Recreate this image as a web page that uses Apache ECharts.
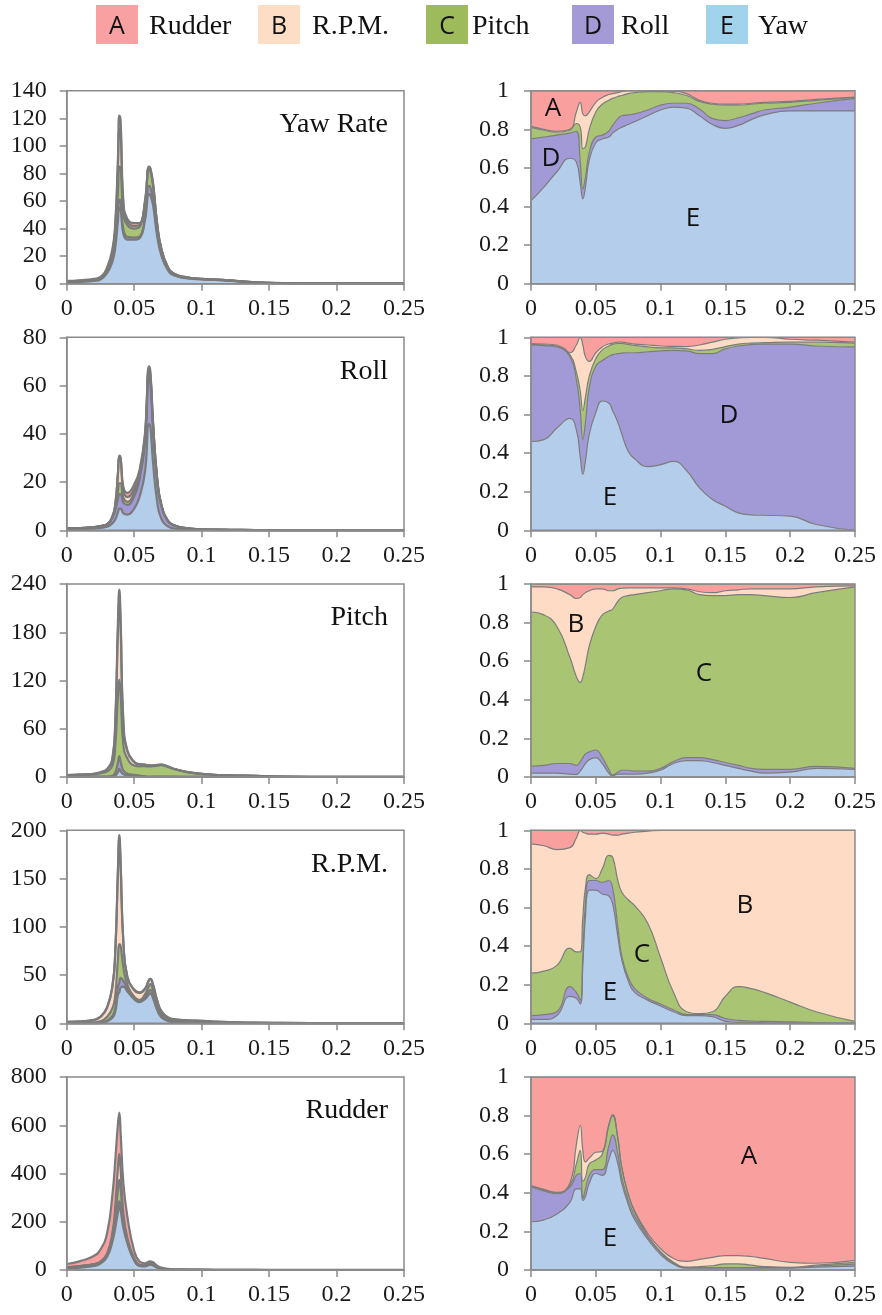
<!DOCTYPE html>
<html>
<head>
<meta charset="utf-8">
<script src="https://cdn.jsdelivr.net/npm/echarts/dist/echarts.min.js"></script>
<style>
  html, body { margin: 0; padding: 0; background: #ffffff; }
  #chart { width: 882px; height: 1315px; }
</style>
</head>
<body>
<div id="chart"></div>
<script>
// Frequency grids (same units as the x axes)
const freqAbs = [0, 0.01, 0.02, 0.025, 0.03, 0.034, 0.036, 0.038, 0.039, 0.04, 0.042, 0.045, 0.05, 0.054, 0.058, 0.061, 0.062, 0.064, 0.067, 0.07, 0.075, 0.08, 0.09, 0.1, 0.12, 0.14, 0.16, 0.2, 0.25];
const freqShare = [0, 0.01, 0.02, 0.03, 0.035, 0.038, 0.04, 0.042, 0.045, 0.05, 0.055, 0.06, 0.063, 0.067, 0.07, 0.075, 0.08, 0.09, 0.1, 0.11, 0.12, 0.13, 0.14, 0.15, 0.16, 0.17, 0.18, 0.2, 0.22, 0.25];

// Axis tick settings
const absMax = [140, 80, 240, 200, 800];
const absStep = [20, 20, 60, 50, 200];
const panelTitles = ['Yaw Rate', 'Roll', 'Pitch', 'R.P.M.', 'Rudder'];

// ---- Yaw Rate: spectrum contributions ----
const yawRateYaw    = [0.9, 1.25, 2.0, 3.1, 7.8, 16.5, 26, 46, 55, 54, 36, 32, 32, 33, 46, 65, 64, 57, 35, 21, 9.9, 5.9, 3.9, 3.15, 2.3, 0.83, 0.41, 0.18, 0.09];
const yawRateRoll   = [0.6, 0.65, 0.7, 0.8, 1.6, 4, 6, 6, 6, 6, 3.5, 2, 1.5, 1.2, 2.5, 6, 6, 4, 2.4, 1.6, 0.6, 0.3, 0.15, 0.1, 0.06, 0.03, 0.02, 0, 0.01];
const yawRatePitch  = [0.1, 0.1, 0.05, 0.1, 0.3, 1.3, 4, 15, 24, 24, 12, 8.5, 6.5, 7, 9, 12, 12, 10, 5.5, 2.8, 1.3, 0.7, 0.45, 0.25, 0.1, 0.08, 0.03, 0, 0];
const yawRateRpm    = [0, 0, 0, 0.05, 0.2, 2, 5, 18, 27, 25, 5.5, 2.5, 1.8, 1.5, 1.5, 1.2, 1.2, 1.2, 0.6, 0.4, 0.2, 0.1, 0, 0, 0, 0, 0, 0, 0];
const yawRateRudder = [0.4, 0.5, 0.75, 0.95, 2.1, 2.2, 3, 7, 10, 9, 3, 2, 2.2, 1.3, 1, 0.8, 0.8, 0.8, 0.5, 0.2, 0, 0, 0, 0, 0.04, 0.06, 0.04, 0.02, 0];
// ---- Yaw Rate: relative shares ----
const yawRateYawShare    = [0.43, 0.50, 0.58, 0.65, 0.63, 0.52, 0.44, 0.50, 0.64, 0.73, 0.75, 0.76, 0.78, 0.80, 0.81, 0.825, 0.84, 0.87, 0.90, 0.915, 0.91, 0.87, 0.825, 0.805, 0.82, 0.85, 0.875, 0.895, 0.895, 0.895];
const yawRateRollShare   = [0.32, 0.26, 0.19, 0.13, 0.16, 0.11, 0.05, 0.05, 0.04, 0.03, 0.02, 0.03, 0.04, 0.055, 0.06, 0.05, 0.04, 0.03, 0.025, 0.02, 0.025, 0.035, 0.03, 0.04, 0.04, 0.03, 0.025, 0.02, 0.04, 0.065];
const yawRatePitchShare  = [0.06, 0.035, 0.015, 0.015, 0.04, 0.18, 0.21, 0.16, 0.12, 0.13, 0.16, 0.16, 0.14, 0.115, 0.105, 0.11, 0.11, 0.095, 0.07, 0.055, 0.04, 0.04, 0.075, 0.08, 0.065, 0.05, 0.035, 0.025, 0.015, 0.005];
const yawRateRpmShare    = [0.005, 0.005, 0.005, 0.005, 0.06, 0.13, 0.18, 0.16, 0.09, 0.05, 0.035, 0.03, 0.025, 0.02, 0.02, 0.015, 0.01, 0.005, 0.005, 0.008, 0.01, 0.005, 0.005, 0.005, 0.005, 0.005, 0.005, 0.005, 0.005, 0.002];
const yawRateRudderShare = [0.185, 0.20, 0.21, 0.20, 0.11, 0.06, 0.12, 0.13, 0.11, 0.06, 0.035, 0.02, 0.015, 0.01, 0.005, 0, 0, 0, 0, 0.002, 0.015, 0.05, 0.065, 0.07, 0.07, 0.065, 0.06, 0.055, 0.045, 0.033];

// ---- Roll ----
const rollYaw    = [0.37, 0.43, 0.68, 0.99, 1.45, 3, 4.5, 7.5, 9, 9, 7, 6.5, 9, 14, 24, 44, 43, 28, 12, 5, 1.6, 0.75, 0.26, 0.13, 0.06, 0.02, 0.01, 0, 0];
const rollRoll   = [0.4, 0.43, 0.57, 0.73, 0.92, 2.4, 4, 5.5, 6, 6, 4.5, 4, 5, 7, 12, 19, 18.5, 14, 8.5, 5.4, 2.2, 1.15, 0.5, 0.25, 0.13, 0.08, 0.05, 0.04, 0.03];
const rollPitch  = [0.01, 0.02, 0.03, 0.04, 0.05, 0.3, 1, 3.5, 4.5, 4.5, 2, 1.3, 1.5, 1.5, 2, 2.5, 2.5, 1.8, 0.9, 0.4, 0.1, 0.05, 0.02, 0.01, 0.01, 0, 0, 0, 0];
const rollRpm    = [0.01, 0.01, 0.01, 0.02, 0.03, 0.2, 1, 7, 11, 10, 3, 2, 1.6, 1, 0.8, 0.8, 0.8, 0.4, 0.2, 0.1, 0.05, 0.03, 0.01, 0.01, 0, 0, 0, 0, 0];
const rollRudder = [0.01, 0.01, 0.01, 0.02, 0.05, 0.1, 0.5, 0.5, 0.5, 0.5, 1.5, 1.7, 1.9, 1.5, 1.2, 1.7, 1.2, 0.8, 0.4, 0.1, 0.05, 0.02, 0.01, 0, 0, 0, 0, 0, 0];
const rollYawShare    = [0.46, 0.47, 0.53, 0.58, 0.52, 0.38, 0.29, 0.36, 0.50, 0.61, 0.67, 0.66, 0.62, 0.56, 0.50, 0.41, 0.37, 0.33, 0.34, 0.357, 0.31, 0.22, 0.16, 0.125, 0.09, 0.08, 0.078, 0.073, 0.03, 0];
const rollRollShare   = [0.50, 0.487, 0.42, 0.32, 0.26, 0.24, 0.18, 0.20, 0.24, 0.24, 0.21, 0.24, 0.29, 0.355, 0.418, 0.51, 0.55, 0.595, 0.59, 0.575, 0.62, 0.695, 0.755, 0.815, 0.865, 0.882, 0.887, 0.892, 0.925, 0.95];
const rollPitchShare  = [0.003, 0.003, 0.005, 0.01, 0.04, 0.10, 0.15, 0.13, 0.06, 0.04, 0.055, 0.055, 0.055, 0.053, 0.05, 0.043, 0.038, 0.025, 0.015, 0.013, 0.01, 0.017, 0.022, 0.012, 0.01, 0.008, 0.007, 0.01, 0.02, 0.02];
const rollRpmShare    = [0.004, 0.005, 0.005, 0.01, 0.14, 0.28, 0.34, 0.21, 0.075, 0.03, 0.015, 0.01, 0.005, 0.007, 0.007, 0.007, 0.007, 0.01, 0.01, 0.008, 0.012, 0.028, 0.038, 0.038, 0.032, 0.03, 0.028, 0.015, 0.01, 0.005];
const rollRudderShare = [0.033, 0.035, 0.04, 0.08, 0.04, 0, 0.04, 0.10, 0.125, 0.08, 0.05, 0.035, 0.03, 0.025, 0.025, 0.03, 0.035, 0.04, 0.045, 0.047, 0.048, 0.04, 0.025, 0.01, 0.003, 0, 0, 0.01, 0.015, 0.025];

// ---- Pitch ----
const pitchYaw    = [0.05, 0.06, 0.1, 0.1, 0.1, 0.4, 1.5, 6, 10, 7, 3.5, 2.5, 1.8, 1.2, 0.5, 0.1, 0.1, 0.2, 0.3, 0.3, 0.25, 0.2, 0.15, 0.15, 0.16, 0.11, 0.03, 0.01, 0];
const pitchRoll   = [0.08, 0.1, 0.2, 0.3, 0.4, 1.2, 4, 12, 16, 12, 4.5, 1.5, 0.8, 0.5, 0.4, 0.2, 0.2, 0.3, 0.3, 0.3, 0.25, 0.2, 0.1, 0.08, 0.02, 0.02, 0.01, 0, 0];
const pitchPitch  = [2.0, 2.4, 3.0, 4.4, 6.5, 13, 33, 85, 95, 84, 32, 19, 11.7, 11.5, 12.6, 12.8, 12.9, 12.9, 13.5, 14.1, 12, 9.2, 5.6, 3.7, 1.78, 1.3, 0.44, 0.18, 0.1];
const pitchRpm    = [0.33, 0.4, 0.6, 1.0, 2.5, 9, 27, 80, 100, 82, 26, 8.5, 4.2, 2.5, 1.7, 1.1, 1.0, 0.9, 0.7, 0.6, 0.4, 0.3, 0.1, 0.05, 0.02, 0.03, 0.01, 0.01, 0];
const pitchRudder = [0.04, 0.04, 0.1, 0.2, 0.5, 1.4, 4.5, 12, 12, 10, 4, 1.5, 0.5, 0.3, 0.3, 0.3, 0.3, 0.2, 0.2, 0.2, 0.1, 0.1, 0.05, 0.02, 0.02, 0.04, 0.01, 0, 0];
const pitchYawShare    = [0.02, 0.02, 0.02, 0.015, 0.014, 0.03, 0.05, 0.07, 0.09, 0.10, 0.07, 0.02, 0.005, 0.015, 0.015, 0.015, 0.015, 0.02, 0.035, 0.07, 0.085, 0.085, 0.075, 0.06, 0.045, 0.03, 0.02, 0.025, 0.045, 0.04];
const pitchRollShare   = [0.035, 0.04, 0.05, 0.055, 0.046, 0.05, 0.05, 0.05, 0.04, 0.04, 0.03, 0.02, 0.005, 0.01, 0.02, 0.02, 0.015, 0.01, 0.01, 0.01, 0.015, 0.015, 0.015, 0.015, 0.015, 0.015, 0.02, 0.015, 0.01, 0.005];
const pitchPitchShare  = [0.80, 0.78, 0.71, 0.55, 0.46, 0.41, 0.42, 0.46, 0.55, 0.64, 0.74, 0.82, 0.86, 0.885, 0.895, 0.905, 0.915, 0.925, 0.92, 0.895, 0.87, 0.845, 0.85, 0.865, 0.885, 0.90, 0.90, 0.89, 0.90, 0.94];
const pitchRpmShare    = [0.13, 0.145, 0.195, 0.325, 0.405, 0.44, 0.425, 0.375, 0.285, 0.195, 0.135, 0.105, 0.095, 0.065, 0.048, 0.04, 0.035, 0.025, 0.015, 0.005, 0.005, 0.015, 0.015, 0.025, 0.025, 0.03, 0.035, 0.045, 0.03, 0.005];
const pitchRudderShare = [0.015, 0.015, 0.025, 0.055, 0.075, 0.07, 0.055, 0.045, 0.035, 0.025, 0.025, 0.035, 0.035, 0.025, 0.022, 0.02, 0.02, 0.02, 0.02, 0.02, 0.025, 0.04, 0.045, 0.035, 0.03, 0.025, 0.025, 0.025, 0.015, 0.01];

// ---- R.P.M. ----
const rpmYaw    = [0.03, 0.04, 0.1, 0.3, 2, 6, 12, 30, 32, 37, 38, 33, 25, 22, 25, 30, 31, 26, 14, 6.5, 2.5, 1.2, 0.5, 0.25, 0.05, 0.03, 0, 0, 0];
const rpmRoll   = [0.02, 0.03, 0.05, 0.1, 0.8, 2, 3, 8, 10, 10, 6, 3, 1.5, 1.5, 2, 3.5, 3.5, 3, 1.5, 0.7, 0.2, 0.1, 0.05, 0.02, 0.01, 0.01, 0, 0, 0];
const rpmPitch  = [0.35, 0.45, 0.8, 1.6, 4, 8, 14, 30, 40, 33, 14, 4, 1, 0.5, 3, 5.5, 6, 5.5, 3.5, 2.3, 1.1, 0.7, 0.45, 0.4, 0.08, 0.02, 0.07, 0.01, 0];
const rpmRpm    = [1.0, 1.35, 2.3, 4.5, 9.5, 23.5, 45, 90, 110, 82, 26, 7.5, 7, 7.5, 5.5, 5.8, 5.3, 5.3, 4.8, 3.4, 2.2, 2.0, 2.0, 1.83, 1.06, 0.54, 0.33, 0.19, 0.1];
const rpmRudder = [0.1, 0.13, 0.25, 0.5, 0.7, 0.5, 1, 2, 3, 3, 1, 0.5, 0.5, 0.5, 0.5, 0.2, 0.2, 0.2, 0.2, 0.1, 0, 0, 0, 0, 0, 0, 0, 0, 0];
const rpmYawShare    = [0.02, 0.02, 0.04, 0.14, 0.13, 0.10, 0.30, 0.55, 0.69, 0.69, 0.67, 0.66, 0.62, 0.45, 0.33, 0.22, 0.16, 0.12, 0.09, 0.06, 0.04, 0.04, 0.035, 0.01, 0.005, 0.004, 0.003, 0.002, 0.001, 0];
const rpmRollShare   = [0.02, 0.025, 0.02, 0.05, 0.03, 0.02, 0.05, 0.07, 0.05, 0.05, 0.06, 0.08, 0.08, 0.05, 0.02, 0.02, 0.02, 0.01, 0.01, 0.01, 0.005, 0.005, 0.01, 0.015, 0.01, 0.008, 0.007, 0.005, 0.003, 0.002];
const rpmPitchShare  = [0.22, 0.225, 0.24, 0.20, 0.21, 0.25, 0.20, 0.08, 0.03, 0.01, 0.07, 0.13, 0.16, 0.24, 0.33, 0.40, 0.43, 0.39, 0.24, 0.09, 0.015, 0.005, 0.015, 0.115, 0.175, 0.168, 0.15, 0.103, 0.056, 0.008];
const rpmRpmShare    = [0.67, 0.65, 0.60, 0.52, 0.59, 0.63, 0.44, 0.285, 0.21, 0.23, 0.185, 0.11, 0.115, 0.235, 0.30, 0.345, 0.38, 0.475, 0.66, 0.84, 0.94, 0.95, 0.94, 0.86, 0.81, 0.82, 0.84, 0.89, 0.94, 0.99];
const rpmRudderShare = [0.07, 0.08, 0.10, 0.09, 0.04, 0, 0.01, 0.015, 0.02, 0.02, 0.015, 0.02, 0.025, 0.025, 0.02, 0.015, 0.01, 0.005, 0, 0, 0, 0, 0, 0, 0, 0, 0, 0, 0, 0];

// ---- Rudder ----
const rudderYaw    = [6, 10, 17, 27, 55, 120, 175, 240, 264, 245, 175, 110, 40, 17, 15, 21, 22, 19, 10, 5, 2, 0.9, 0.3, 0.1, 0, 0.01, 0, 0, 0];
const rudderRoll   = [5, 6, 6, 6, 8, 13, 18, 20, 21, 20, 12, 6, 3, 1.5, 1.5, 2.5, 2.5, 2, 1, 0.4, 0.1, 0.05, 0.02, 0.01, 0, 0, 0, 0, 0];
const rudderPitch  = [0.2, 0.3, 0.5, 1, 3, 12, 30, 75, 89, 70, 22, 8, 3, 2, 2, 3, 3.5, 3, 1.5, 0.6, 0.2, 0.1, 0.03, 0.01, 0, 0.02, 0.01, 0, 0];
const rudderRpm    = [0.1, 0.2, 0.5, 1, 3, 14, 40, 90, 106, 80, 25, 8, 2, 1.5, 1, 1, 1, 0.8, 0.3, 0.1, 0, 0, 0, 0.01, 0.05, 0.07, 0.03, 0.01, 0];
const rudderRudder = [13.7, 20.5, 34, 50, 85, 160, 193, 183, 172, 152, 127, 88, 32, 13, 8.5, 7.5, 7, 7.2, 5.2, 3.9, 2.7, 1.95, 1.65, 1.37, 1.95, 1.4, 0.46, 0.29, 0.2];
const rudderYawShare    = [0.25, 0.26, 0.29, 0.35, 0.42, 0.42, 0.36, 0.38, 0.45, 0.50, 0.49, 0.57, 0.62, 0.55, 0.45, 0.34, 0.26, 0.16, 0.08, 0.03, 0.01, 0.01, 0.01, 0.01, 0.01, 0.01, 0.01, 0.01, 0.015, 0.02];
const rudderRollShare   = [0.18, 0.15, 0.105, 0.08, 0.07, 0.08, 0.01, 0.04, 0.04, 0.02, 0.03, 0.07, 0.08, 0.05, 0.03, 0.02, 0.02, 0.01, 0.01, 0.005, 0.002, 0.002, 0.002, 0.003, 0.003, 0.002, 0.002, 0.002, 0.005, 0.01];
const rudderPitchShare  = [0.005, 0.005, 0.005, 0.01, 0.06, 0.12, 0.09, 0.06, 0.06, 0.05, 0.08, 0.11, 0.10, 0.08, 0.05, 0.03, 0.02, 0.01, 0.005, 0.005, 0.003, 0.006, 0.01, 0.019, 0.019, 0.013, 0.006, 0.002, 0.005, 0.01];
const rudderRpmShare    = [0.002, 0.003, 0.002, 0.01, 0.10, 0.13, 0.16, 0.08, 0.03, 0.04, 0.015, 0, 0.005, 0.005, 0.005, 0.005, 0.005, 0.01, 0.015, 0.02, 0.03, 0.037, 0.043, 0.043, 0.043, 0.045, 0.042, 0.026, 0.01, 0.01];
const rudderRudderShare = [0.563, 0.582, 0.598, 0.55, 0.35, 0.25, 0.38, 0.44, 0.42, 0.39, 0.385, 0.25, 0.195, 0.315, 0.465, 0.605, 0.695, 0.81, 0.89, 0.94, 0.955, 0.945, 0.935, 0.925, 0.925, 0.93, 0.94, 0.96, 0.965, 0.95];

// Stacking order, bottom to top
const LAYERS = [
  { tag: 'E', name: 'Yaw',    fill: '#B3CDEA', swatch: '#A2D3EC' },
  { tag: 'D', name: 'Roll',   fill: '#A29AD6', swatch: '#A39AD6' },
  { tag: 'C', name: 'Pitch',  fill: '#A9C574', swatch: '#9DBB5B' },
  { tag: 'B', name: 'R.P.M.', fill: '#FDDBC4', swatch: '#FDDDC3' },
  { tag: 'A', name: 'Rudder', fill: '#F9A09F', swatch: '#F9A1A2' }
];

const absSets = [
  [yawRateYaw, yawRateRoll, yawRatePitch, yawRateRpm, yawRateRudder],
  [rollYaw, rollRoll, rollPitch, rollRpm, rollRudder],
  [pitchYaw, pitchRoll, pitchPitch, pitchRpm, pitchRudder],
  [rpmYaw, rpmRoll, rpmPitch, rpmRpm, rpmRudder],
  [rudderYaw, rudderRoll, rudderPitch, rudderRpm, rudderRudder]
];
const shareSets = [
  [yawRateYawShare, yawRateRollShare, yawRatePitchShare, yawRateRpmShare, yawRateRudderShare],
  [rollYawShare, rollRollShare, rollPitchShare, rollRpmShare, rollRudderShare],
  [pitchYawShare, pitchRollShare, pitchPitchShare, pitchRpmShare, pitchRudderShare],
  [rpmYawShare, rpmRollShare, rpmPitchShare, rpmRpmShare, rpmRudderShare],
  [rudderYawShare, rudderRollShare, rudderPitchShare, rudderRpmShare, rudderRudderShare]
];
// Letters naming the dominant regions in the share panels
const shareTags = [
  [['A', 553, 109], ['D', 551, 159], ['E', 693, 219]],
  [['D', 729, 416], ['E', 610, 498]],
  [['B', 576, 625], ['C', 704, 674]],
  [['B', 745, 906], ['C', 642, 955], ['E', 610, 993]],
  [['A', 749, 1157], ['E', 610, 1239]]
];

// ---- Layout ----
const TOPS = [90.7, 337.3, 584, 830.3, 1077];
const PLOT_H = 193;
const LEFT_X = 66.7, LEFT_W = 337.3;
const RIGHT_X = 531, RIGHT_W = 324;
const AXIS_GREY = '#8a8a8a';
const SERIF = '"Liberation Serif", "Times New Roman", serif';
const SANS = '"Open Sans", "Noto Sans", sans-serif';

const grid = [], xAxis = [], yAxis = [], series = [], graphic = [];

function axisPair(gi, yMax, yStep, yMargin) {
  xAxis.push({
    type: 'value', gridIndex: gi, min: 0, max: 0.25, interval: 0.05, z: 10,
    axisLine: { show: true, lineStyle: { color: AXIS_GREY, width: 1.5 } },
    axisTick: { show: true, length: 7, lineStyle: { color: AXIS_GREY, width: 1.5 } },
    splitLine: { show: false },
    axisLabel: { margin: 13, color: '#1a1a1a', fontFamily: SERIF, fontSize: 24, showMinLabel: true, showMaxLabel: true }
  });
  yAxis.push({
    type: 'value', gridIndex: gi, min: 0, max: yMax, interval: yStep, z: 10,
    axisLine: { show: true, lineStyle: { color: AXIS_GREY, width: 1.5 } },
    axisTick: { show: true, length: 7, lineStyle: { color: AXIS_GREY, width: 1.5 } },
    splitLine: { show: false },
    axisLabel: { margin: yMargin, color: '#1a1a1a', fontFamily: SERIF, fontSize: 24, showMinLabel: true, showMaxLabel: true }
  });
}

function frame(x, y, w, h) {
  graphic.push({
    type: 'rect', z: 50, silent: true,
    shape: { x: x, y: y, width: w, height: h },
    style: { fill: 'none', stroke: AXIS_GREY, lineWidth: 1.5 }
  });
}

// Points are stored as [value, frequency] so that the stack runs along the value axis
function pairs(freqs, values) {
  return freqs.map((f, i) => [values[i], f]);
}

for (let p = 0; p < 5; p++) {
  const top = TOPS[p];
  const gL = 2 * p, gR = 2 * p + 1;
  grid.push({ left: LEFT_X, top: top, width: LEFT_W, height: PLOT_H });
  grid.push({ left: RIGHT_X, top: top, width: RIGHT_W, height: PLOT_H });
  axisPair(gL, absMax[p], absStep[p], 20);
  axisPair(gR, 1, 0.2, 22);

  LAYERS.forEach((layer, k) => {
    series.push({
      type: 'line', name: layer.name, xAxisIndex: gL, yAxisIndex: gL,
      encode: { x: 1, y: 0 },
      stack: 'abs' + p, smooth: 0.5, symbol: 'none',
      lineStyle: { color: '#7a7a7a', width: 2.2 },
      areaStyle: { color: layer.fill, opacity: 1 },
      data: pairs(freqAbs, absSets[p][k])
    });
    series.push({
      type: 'line', name: layer.name, xAxisIndex: gR, yAxisIndex: gR,
      encode: { x: 1, y: 0 },
      stack: 'share' + p, smooth: 0.5, symbol: 'none',
      lineStyle: { color: '#7c7c7c', width: 1.2 },
      areaStyle: { color: layer.fill, opacity: 1 },
      data: pairs(freqShare, shareSets[p][k])
    });
  });

  frame(LEFT_X, top, LEFT_W, PLOT_H);
  frame(RIGHT_X, top, RIGHT_W, PLOT_H);

  graphic.push({
    type: 'text', z: 60, silent: true,
    style: {
      text: panelTitles[p], x: 388, y: top + 34,
      font: '28px ' + SERIF, fill: '#111111',
      align: 'right', textAlign: 'right', verticalAlign: 'middle', textVerticalAlign: 'middle'
    }
  });

  shareTags[p].forEach(t => {
    graphic.push({
      type: 'text', z: 60, silent: true,
      style: {
        text: t[0], x: t[1], y: t[2],
        font: '26px ' + SANS, fill: '#111111',
        align: 'center', textAlign: 'center', verticalAlign: 'middle', textVerticalAlign: 'middle'
      }
    });
  });
}

// ---- Legend: lettered swatch followed by the channel name ----
const legendBoxes = [96, 258, 426, 572, 706];
const legendText = [149, 312, 472, 621, 758];
const legendOrder = [4, 3, 2, 1, 0];
legendOrder.forEach((li, j) => {
  const layer = LAYERS[li];
  graphic.push({
    type: 'rect', silent: true,
    shape: { x: legendBoxes[j], y: 5, width: 42, height: 39 },
    style: { fill: layer.swatch }
  });
  graphic.push({
    type: 'text', silent: true,
    style: {
      text: layer.tag, x: legendBoxes[j] + 21, y: 27,
      font: '25px ' + SANS, fill: '#111111',
      align: 'center', textAlign: 'center', verticalAlign: 'middle', textVerticalAlign: 'middle'
    }
  });
  graphic.push({
    type: 'text', silent: true,
    style: {
      text: layer.name, x: legendText[j], y: 27,
      font: '28px ' + SERIF, fill: '#111111',
      align: 'left', textAlign: 'left', verticalAlign: 'middle', textVerticalAlign: 'middle'
    }
  });
});

const chart = echarts.init(document.getElementById('chart'), null, { renderer: 'canvas' });
chart.setOption({
  animation: false,
  backgroundColor: '#ffffff',
  grid: grid,
  xAxis: xAxis,
  yAxis: yAxis,
  series: series,
  graphic: graphic
});
</script>
</body>
</html>
